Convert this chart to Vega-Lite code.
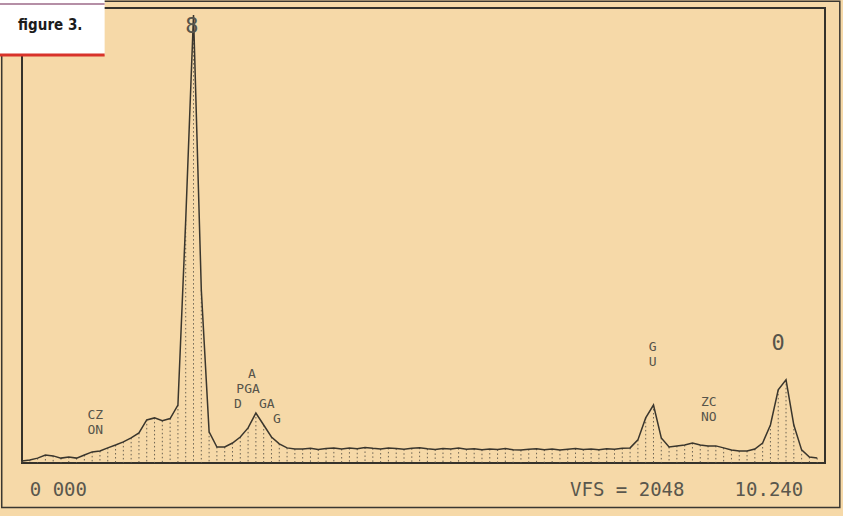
{
  "$schema": "https://vega.github.io/schema/vega-lite/v6.json",
  "width": 803,
  "height": 455,
  "autosize": "none",
  "padding": {"left": 22, "top": 8, "right": 18, "bottom": 53},
  "background": "#f6d9a8",
  "config": {"view": {"stroke": "#35322b", "strokeWidth": 2, "fill": "#f6d9a8"}},
  "datasets": {
    "spectrum": [
      {"e":0.0,"c":9},{"e":0.1,"c":14},{"e":0.2,"c":22},{"e":0.3,"c":36},{"e":0.4,"c":32},{"e":0.5,"c":22},{"e":0.6,"c":27},{"e":0.7,"c":22},{"e":0.8,"c":36},{"e":0.9,"c":50},
      {"e":1.0,"c":54},{"e":1.1,"c":68},{"e":1.2,"c":81},{"e":1.3,"c":95},{"e":1.4,"c":113},{"e":1.5,"c":135},{"e":1.6,"c":194},{"e":1.7,"c":203},{"e":1.8,"c":190},{"e":1.9,"c":200},
      {"e":2.0,"c":261},{"e":2.1,"c":1094},{"e":2.2,"c":2016},{"e":2.3,"c":779},{"e":2.4,"c":140},{"e":2.5,"c":72},{"e":2.6,"c":72},{"e":2.7,"c":90},{"e":2.8,"c":117},{"e":2.9,"c":158},
      {"e":3.0,"c":225},{"e":3.1,"c":171},{"e":3.2,"c":117},{"e":3.3,"c":86},{"e":3.4,"c":68},{"e":3.5,"c":63},{"e":3.6,"c":63},{"e":3.7,"c":66},{"e":3.8,"c":61},{"e":3.9,"c":65},
      {"e":4.0,"c":68},{"e":4.1,"c":63},{"e":4.2,"c":67},{"e":4.3,"c":64},{"e":4.4,"c":70},{"e":4.5,"c":66},{"e":4.6,"c":63},{"e":4.7,"c":68},{"e":4.8,"c":65},{"e":4.9,"c":62},
      {"e":5.0,"c":66},{"e":5.1,"c":69},{"e":5.2,"c":64},{"e":5.3,"c":61},{"e":5.4,"c":65},{"e":5.5,"c":63},{"e":5.6,"c":67},{"e":5.7,"c":62},{"e":5.8,"c":64},{"e":5.9,"c":60},
      {"e":6.0,"c":63},{"e":6.1,"c":61},{"e":6.2,"c":65},{"e":6.3,"c":60},{"e":6.4,"c":58},{"e":6.5,"c":62},{"e":6.6,"c":64},{"e":6.7,"c":60},{"e":6.8,"c":63},{"e":6.9,"c":59},
      {"e":7.0,"c":62},{"e":7.1,"c":65},{"e":7.2,"c":61},{"e":7.3,"c":63},{"e":7.4,"c":60},{"e":7.5,"c":64},{"e":7.6,"c":62},{"e":7.7,"c":66},{"e":7.8,"c":68},{"e":7.9,"c":104},
      {"e":8.0,"c":203},{"e":8.1,"c":261},{"e":8.2,"c":113},{"e":8.3,"c":72},{"e":8.4,"c":77},{"e":8.5,"c":81},{"e":8.6,"c":90},{"e":8.7,"c":81},{"e":8.8,"c":77},{"e":8.9,"c":77},
      {"e":9.0,"c":68},{"e":9.1,"c":59},{"e":9.2,"c":54},{"e":9.3,"c":54},{"e":9.4,"c":63},{"e":9.5,"c":90},{"e":9.6,"c":171},{"e":9.7,"c":329},{"e":9.8,"c":374},{"e":9.9,"c":171},
      {"e":10.0,"c":59},{"e":10.1,"c":27},{"e":10.2,"c":22}
    ],
    "labels": [
      {"e":0.94,"c":218,"t":"CZ"},
      {"e":0.94,"c":150,"t":"ON"},
      {"e":2.95,"c":400,"t":"A"},
      {"e":2.90,"c":332,"t":"PGA"},
      {"e":2.77,"c":266,"t":"D"},
      {"e":3.14,"c":266,"t":"GA"},
      {"e":3.27,"c":198,"t":"G"},
      {"e":8.81,"c":274,"t":"ZC"},
      {"e":8.81,"c":205,"t":"NO"},
      {"e":8.09,"c":522,"t":"G"},
      {"e":8.09,"c":454,"t":"U"}
    ],
    "big": [
      {"e":2.18,"c":1967,"t":"8"},
      {"e":9.70,"c":540,"t":"0"}
    ],
    "footer": [
      {"e":0.1,"t":"0 000"},
      {"e":7.03,"t":"VFS = 2048"},
      {"e":9.14,"t":"10.240"}
    ],
    "fig": [
      {"e":-0.05,"c":1971,"t":"figure 3."}
    ]
  },
  "layer": [
    {
      "data": {"name": "spectrum"},
      "mark": {"type": "rule", "color": "#5e584a", "strokeWidth": 1, "strokeDash": [1.5, 2.5], "opacity": 0.9},
      "encoding": {
        "x": {"field": "e", "type": "quantitative", "scale": {"domain": [0, 10.3], "nice": false}, "axis": null},
        "y": {"field": "c", "type": "quantitative", "scale": {"domain": [0, 2048], "nice": false}, "axis": null},
        "y2": {"datum": 0}
      }
    },
    {
      "data": {"name": "spectrum"},
      "mark": {"type": "line", "color": "#3a362d", "strokeWidth": 1.5},
      "encoding": {
        "x": {"field": "e", "type": "quantitative"},
        "y": {"field": "c", "type": "quantitative"}
      }
    },
    {
      "data": {"name": "labels"},
      "mark": {"type": "text", "font": "DejaVu Sans Mono", "fontSize": 13, "color": "#57544a", "align": "center", "baseline": "middle"},
      "encoding": {
        "x": {"field": "e", "type": "quantitative"},
        "y": {"field": "c", "type": "quantitative"},
        "text": {"field": "t"}
      }
    },
    {
      "data": {"name": "big"},
      "mark": {"type": "text", "font": "DejaVu Sans Mono", "fontSize": 22, "color": "#57544a", "align": "center", "baseline": "middle"},
      "encoding": {
        "x": {"field": "e", "type": "quantitative"},
        "y": {"field": "c", "type": "quantitative"},
        "text": {"field": "t"}
      }
    },
    {
      "data": {"name": "footer"},
      "mark": {"type": "text", "font": "DejaVu Sans Mono", "fontSize": 19, "color": "#5a574d", "align": "left", "baseline": "middle"},
      "encoding": {
        "x": {"field": "e", "type": "quantitative"},
        "y": {"datum": -120},
        "text": {"field": "t"}
      }
    },
    {
      "data": {"values": [{}]},
      "mark": {"type": "rect", "fill": null, "stroke": "#3a3731", "strokeWidth": 1.5},
      "encoding": {
        "x": {"datum": -0.26},
        "x2": {"datum": 10.49},
        "y": {"datum": 2078},
        "y2": {"datum": -200}
      }
    },
    {
      "data": {"values": [{}]},
      "mark": {"type": "rect", "fill": "#ffffff"},
      "encoding": {
        "x": {"datum": -0.3},
        "x2": {"datum": 1.06},
        "y": {"datum": 2110},
        "y2": {"datum": 1836}
      }
    },
    {
      "data": {"values": [{}]},
      "mark": {"type": "rule", "color": "#d8332a", "strokeWidth": 3},
      "encoding": {
        "x": {"datum": -0.3},
        "x2": {"datum": 1.06},
        "y": {"datum": 1836}
      }
    },
    {
      "data": {"values": [{}]},
      "mark": {"type": "rule", "color": "#b58fa6", "strokeWidth": 2},
      "encoding": {
        "x": {"datum": -0.3},
        "x2": {"datum": 1.06},
        "y": {"datum": 2066}
      }
    },
    {
      "data": {"name": "fig"},
      "mark": {"type": "text", "font": "DejaVu Sans Condensed", "fontWeight": "bold", "fontSize": 15, "color": "#1c1c1c", "align": "left", "baseline": "middle"},
      "encoding": {
        "x": {"field": "e", "type": "quantitative"},
        "y": {"field": "c", "type": "quantitative"},
        "text": {"field": "t"}
      }
    }
  ]
}
